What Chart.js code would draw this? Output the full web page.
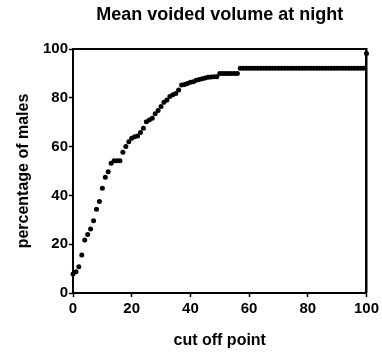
<!DOCTYPE html>
<html>
<head>
<meta charset="utf-8">
<script src="https://cdn.jsdelivr.net/npm/chart.js@4"></script>
<style>
  html, body { margin: 0; padding: 0; background: #fff; }
  #wrap { position: relative; width: 382px; height: 363px; }
  #frame { position: absolute; box-sizing: border-box; border-top: 2px solid #000; border-right: 2px solid #000; pointer-events: none; }
</style>
</head>
<body>
<div id="wrap"><canvas id="c" width="382" height="363"></canvas><div id="frame"></div></div>
<script>
const titleText = "Mean voided volume at night";
const xTitle = "cut off point";
const yTitle = "percentage of males";
const tickValues = [0, 20, 40, 60, 80, 100];

const cutOff = [
  0, 1, 2, 3, 4, 5, 6, 7, 8, 9,
  10, 11, 12, 13, 14, 15, 16, 17, 18, 19,
  20, 21, 22, 23, 24, 25, 26, 27, 28, 29,
  30, 31, 32, 33, 34, 35, 36, 37, 38, 39,
  40, 41, 42, 43, 44, 45, 46, 47, 48, 49,
  50, 51, 52, 53, 54, 55, 56, 57, 58, 59,
  60, 61, 62, 63, 64, 65, 66, 67, 68, 69,
  70, 71, 72, 73, 74, 75, 76, 77, 78, 79,
  80, 81, 82, 83, 84, 85, 86, 87, 88, 89,
  90, 91, 92, 93, 94, 95, 96, 97, 98, 99,
  100
];

const percentMales = [
  7.8, 8.7, 10.8, 15.6, 21.7, 24.0, 26.2, 29.6, 34.3, 37.5,
  42.9, 47.4, 49.7, 53.2, 54.2, 54.2, 54.2, 57.7, 60.0, 62.0,
  63.4, 64.0, 64.3, 65.8, 67.5, 70.2, 70.9, 71.6, 73.5, 74.8,
  76.4, 78.2, 79.1, 80.5, 81.2, 81.8, 83.2, 85.2, 85.5, 85.9,
  86.4, 86.6, 87.2, 87.5, 87.8, 88.1, 88.4, 88.5, 88.6, 88.6,
  90.0, 90.0, 90.0, 90.0, 90.0, 90.0, 90.0, 92.1, 92.1, 92.1,
  92.1, 92.1, 92.1, 92.1, 92.1, 92.1, 92.1, 92.1, 92.1, 92.1,
  92.1, 92.1, 92.1, 92.1, 92.1, 92.1, 92.1, 92.1, 92.1, 92.1,
  92.1, 92.1, 92.1, 92.1, 92.1, 92.1, 92.1, 92.1, 92.1, 92.1,
  92.1, 92.1, 92.1, 92.1, 92.1, 92.1, 92.1, 92.1, 92.1, 92.1,
  98.2
];

const points = cutOff.map((x, i) => ({ x: x, y: percentMales[i] }));

const FONT = "'Liberation Sans', Arial, Helvetica, sans-serif";

// Top and right sides of the plot frame, placed from the library's chart area.
const framePlugin = {
  id: 'plotFrame',
  afterDraw: function (chart) {
    const a = chart.chartArea;
    const c = chart.ctx;
    c.save();
    c.strokeStyle = '#000';
    c.lineWidth = 2;
    c.beginPath();
    c.moveTo(a.left, a.top);
    c.lineTo(a.right, a.top);
    c.lineTo(a.right, a.bottom);
    c.stroke();
    c.restore();
    const f = document.getElementById('frame');
    f.style.left = (a.left - 1) + 'px';
    f.style.top = (a.top - 1) + 'px';
    f.style.width = (a.right - a.left + 2) + 'px';
    f.style.height = (a.bottom - a.top + 2) + 'px';
  }
};

new Chart(document.getElementById('c').getContext('2d'), {
  type: 'scatter',
  data: {
    datasets: [{
      data: points,
      backgroundColor: '#000',
      borderColor: '#000',
      borderWidth: 0,
      pointRadius: 2.5,
      pointHoverRadius: 2.5,
      showLine: false,
      clip: false
    }]
  },
  plugins: [framePlugin],
  options: {
    responsive: false,
    devicePixelRatio: 1,
    animation: false,
    layout: { padding: { left: 0, right: 13, top: 0, bottom: 0 } },
    plugins: {
      legend: { display: false },
      tooltip: { enabled: false },
      title: {
        display: true,
        text: titleText,
        color: '#000',
        fullSize: false,
        font: { family: FONT, size: 18, weight: 'bold' },
        padding: { top: 4, bottom: 23.4 }
      }
    },
    scales: {
      x: {
        type: 'linear',
        position: 'bottom',
        min: 0,
        max: 100,
        afterBuildTicks: (s) => { s.ticks = tickValues.map(v => ({ value: v })); },
        afterFit: (s) => { s.height = 70; },
        ticks: {
          color: '#000',
          font: { family: FONT, size: 15, weight: 'bold' },
          padding: 3,
          maxRotation: 0,
          autoSkip: false
        },
        grid: {
          display: true,
          drawOnChartArea: false,
          drawTicks: true,
          tickLength: 4,
          color: '#000',
          tickColor: '#000',
          tickWidth: 1.5
        },
        border: { display: true, color: '#000', width: 2 },
        title: {
          display: true,
          text: xTitle,
          color: '#000',
          font: { family: FONT, size: 16, weight: 'bold' },
          padding: { top: 0, bottom: 13 }
        }
      },
      y: {
        type: 'linear',
        position: 'left',
        min: 0,
        max: 100,
        afterBuildTicks: (s) => { s.ticks = tickValues.map(v => ({ value: v })); },
        afterFit: (s) => { s.width = 73; },
        ticks: {
          color: '#000',
          font: { family: FONT, size: 15, weight: 'bold' },
          padding: 1
        },
        grid: {
          display: true,
          drawOnChartArea: false,
          drawTicks: true,
          tickLength: 4,
          color: '#000',
          tickColor: '#000',
          tickWidth: 1.5
        },
        border: { display: true, color: '#000', width: 2 },
        title: {
          display: true,
          text: yTitle,
          color: '#000',
          font: { family: FONT, size: 16, weight: 'bold' },
          padding: { top: 14, bottom: 0 }
        }
      }
    }
  }
});
</script>
</body>
</html>
